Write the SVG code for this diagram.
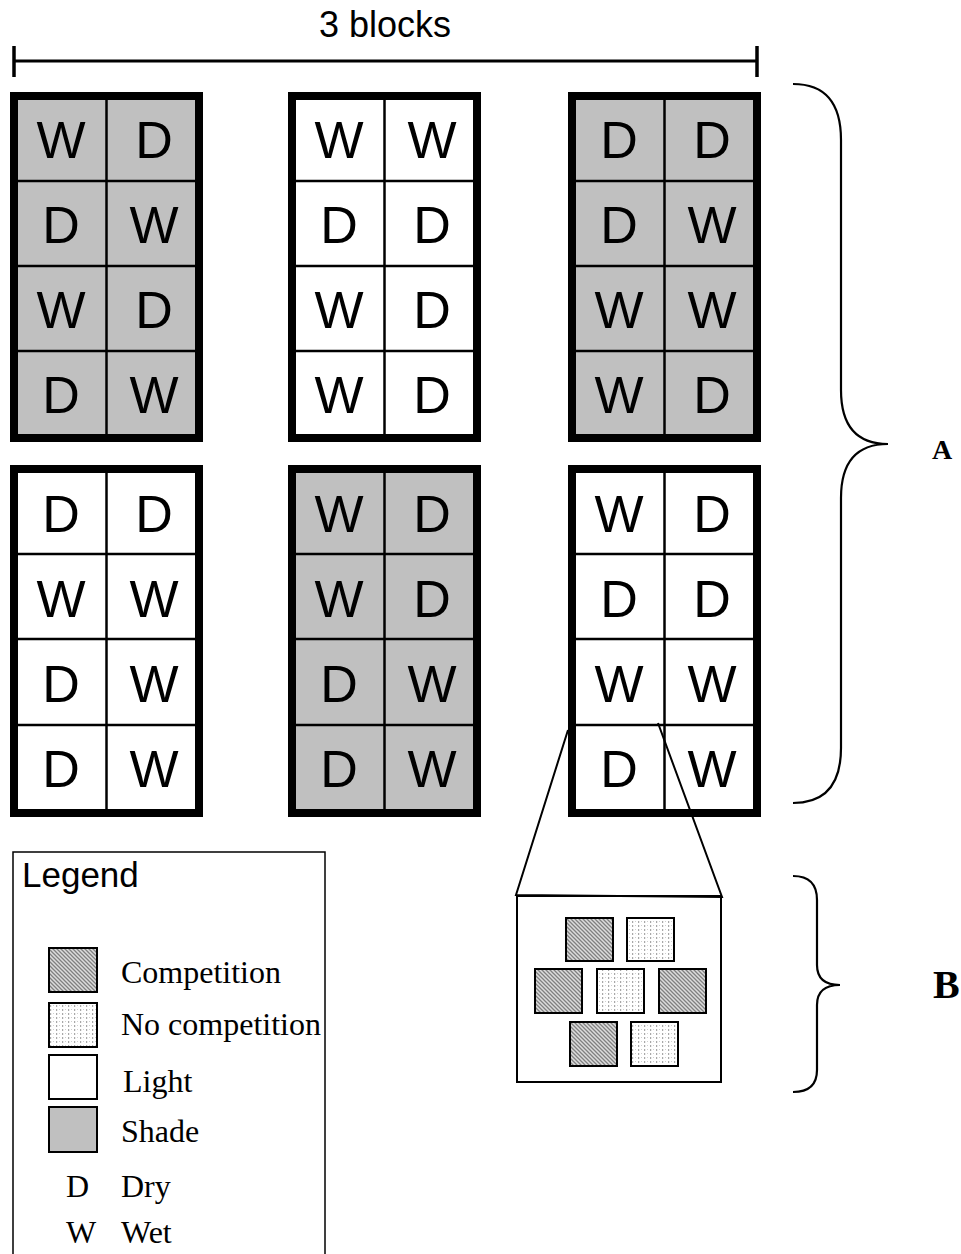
<svg xmlns="http://www.w3.org/2000/svg" width="961" height="1254" viewBox="0 0 961 1254">
<defs>
<pattern id="comp" width="4" height="4" patternUnits="userSpaceOnUse">
<rect width="4" height="4" fill="#dcdcdc"/>
<path d="M-1,-1 L5,5 M-1,3 L1,5 M3,-1 L5,1" stroke="#808080" stroke-width="1.3"/>
</pattern>
<pattern id="nocomp" width="6" height="4" patternUnits="userSpaceOnUse">
<rect width="6" height="4" fill="#ffffff"/>
<rect x="2" y="1" width="1.2" height="2" fill="#a8a8a8"/>
<rect x="5" y="1" width="1" height="1" fill="#d0d0d0"/>
</pattern>
</defs>
<style>
.blk{stroke:#000;stroke-width:8}
.shade{fill:#c0c0c0}
.light{fill:#ffffff}
.div{stroke:#000;stroke-width:2.5}
.cell{font-family:"Liberation Sans",Arial,sans-serif;font-size:52px;fill:#000;text-anchor:middle}
.leg{font-family:"Liberation Serif","Times New Roman",serif;font-size:32px;fill:#000}
.thin{fill:none;stroke:#000;stroke-width:2}
.sw{stroke:#000;stroke-width:2}
.brace{fill:none;stroke:#000;stroke-width:2.2}
.lbl{font-family:"Liberation Serif","Times New Roman",serif;font-weight:bold;fill:#000}
</style>
<rect width="961" height="1254" fill="#fff"/>

<g id="scale">
<line x1="13" y1="61" x2="757" y2="61" stroke="#000" stroke-width="3"/>
<line x1="14" y1="46" x2="14" y2="77" stroke="#000" stroke-width="3.5"/>
<line x1="757" y1="46" x2="757" y2="77" stroke="#000" stroke-width="3.5"/>
<text x="385" y="37" font-family="Liberation Sans,Arial,sans-serif" font-size="36" text-anchor="middle">3 blocks</text>
</g>

<g id="block1">
<rect x="14" y="96" width="185" height="342" class="blk shade"/>
<line x1="106.5" y1="100" x2="106.5" y2="438" class="div"/>
<line x1="18" y1="181" x2="195" y2="181" class="div"/>
<line x1="18" y1="266" x2="195" y2="266" class="div"/>
<line x1="18" y1="351" x2="195" y2="351" class="div"/>
<text x="61" y="158" class="cell">W</text><text x="154" y="158" class="cell">D</text>
<text x="61" y="243" class="cell">D</text><text x="154" y="243" class="cell">W</text>
<text x="61" y="328" class="cell">W</text><text x="154" y="328" class="cell">D</text>
<text x="61" y="413" class="cell">D</text><text x="154" y="413" class="cell">W</text>
</g>

<g id="block2">
<rect x="292" y="96" width="185" height="342" class="blk light"/>
<line x1="384.5" y1="100" x2="384.5" y2="438" class="div"/>
<line x1="296" y1="181" x2="473" y2="181" class="div"/>
<line x1="296" y1="266" x2="473" y2="266" class="div"/>
<line x1="296" y1="351" x2="473" y2="351" class="div"/>
<text x="339" y="158" class="cell">W</text><text x="432" y="158" class="cell">W</text>
<text x="339" y="243" class="cell">D</text><text x="432" y="243" class="cell">D</text>
<text x="339" y="328" class="cell">W</text><text x="432" y="328" class="cell">D</text>
<text x="339" y="413" class="cell">W</text><text x="432" y="413" class="cell">D</text>
</g>

<g id="block3">
<rect x="572" y="96" width="185" height="342" class="blk shade"/>
<line x1="664.5" y1="100" x2="664.5" y2="438" class="div"/>
<line x1="576" y1="181" x2="753" y2="181" class="div"/>
<line x1="576" y1="266" x2="753" y2="266" class="div"/>
<line x1="576" y1="351" x2="753" y2="351" class="div"/>
<text x="619" y="158" class="cell">D</text><text x="712" y="158" class="cell">D</text>
<text x="619" y="243" class="cell">D</text><text x="712" y="243" class="cell">W</text>
<text x="619" y="328" class="cell">W</text><text x="712" y="328" class="cell">W</text>
<text x="619" y="413" class="cell">W</text><text x="712" y="413" class="cell">D</text>
</g>

<g id="block4">
<rect x="14" y="469" width="185" height="344" class="blk light"/>
<line x1="106.5" y1="473" x2="106.5" y2="809" class="div"/>
<line x1="18" y1="554" x2="195" y2="554" class="div"/>
<line x1="18" y1="639" x2="195" y2="639" class="div"/>
<line x1="18" y1="725" x2="195" y2="725" class="div"/>
<text x="61" y="532" class="cell">D</text><text x="154" y="532" class="cell">D</text>
<text x="61" y="617" class="cell">W</text><text x="154" y="617" class="cell">W</text>
<text x="61" y="702" class="cell">D</text><text x="154" y="702" class="cell">W</text>
<text x="61" y="787" class="cell">D</text><text x="154" y="787" class="cell">W</text>
</g>

<g id="block5">
<rect x="292" y="469" width="185" height="344" class="blk shade"/>
<line x1="384.5" y1="473" x2="384.5" y2="809" class="div"/>
<line x1="296" y1="554" x2="473" y2="554" class="div"/>
<line x1="296" y1="639" x2="473" y2="639" class="div"/>
<line x1="296" y1="725" x2="473" y2="725" class="div"/>
<text x="339" y="532" class="cell">W</text><text x="432" y="532" class="cell">D</text>
<text x="339" y="617" class="cell">W</text><text x="432" y="617" class="cell">D</text>
<text x="339" y="702" class="cell">D</text><text x="432" y="702" class="cell">W</text>
<text x="339" y="787" class="cell">D</text><text x="432" y="787" class="cell">W</text>
</g>

<g id="block6">
<rect x="572" y="469" width="185" height="344" class="blk light"/>
<line x1="664.5" y1="473" x2="664.5" y2="809" class="div"/>
<line x1="576" y1="554" x2="753" y2="554" class="div"/>
<line x1="576" y1="639" x2="753" y2="639" class="div"/>
<line x1="576" y1="725" x2="753" y2="725" class="div"/>
<text x="619" y="532" class="cell">W</text><text x="712" y="532" class="cell">D</text>
<text x="619" y="617" class="cell">D</text><text x="712" y="617" class="cell">D</text>
<text x="619" y="702" class="cell">W</text><text x="712" y="702" class="cell">W</text>
<text x="619" y="787" class="cell">D</text><text x="712" y="787" class="cell">W</text>
</g>

<g id="connectors">
<path d="M568,730 L516,895 L722,897 L658,723" class="thin"/>
</g>

<g id="inset">
<rect x="517" y="896" width="204" height="186" class="thin"/>
<rect x="566" y="918" width="47" height="43" fill="url(#comp)" class="sw"/>
<rect x="627" y="918" width="47" height="43" fill="url(#nocomp)" class="sw"/>
<rect x="535" y="969" width="47" height="44" fill="url(#comp)" class="sw"/>
<rect x="597" y="969" width="47" height="44" fill="url(#nocomp)" class="sw"/>
<rect x="659" y="969" width="47" height="44" fill="url(#comp)" class="sw"/>
<rect x="570" y="1022" width="47" height="44" fill="url(#comp)" class="sw"/>
<rect x="631" y="1022" width="47" height="44" fill="url(#nocomp)" class="sw"/>
</g>

<g id="braceA">
<path d="M793,84 Q841,84 841,140 L841,390 Q841,444 888,444 Q841,444 841,498 L841,748 Q841,803 793,803" class="brace"/>
<text x="932" y="459" font-size="28" class="lbl">A</text>
</g>

<g id="braceB">
<path d="M793,876 Q817,876 817,900 L817,965 Q817,985 840,985 Q817,985 817,1005 L817,1070 Q817,1092 793,1092" class="brace"/>
<text x="933" y="998" font-size="40" class="lbl">B</text>
</g>

<g id="legend">
<rect x="13" y="852" width="312" height="420" fill="none" stroke="#000" stroke-width="1.5"/>
<text x="22" y="887" font-family="Liberation Sans,Arial,sans-serif" font-size="35">Legend</text>
<rect x="49" y="948" width="48" height="44" fill="url(#comp)" class="sw"/>
<text x="121" y="983" class="leg">Competition</text>
<rect x="49" y="1003" width="48" height="44" fill="url(#nocomp)" class="sw"/>
<text x="121" y="1035" class="leg">No competition</text>
<rect x="49" y="1055" width="48" height="44" fill="#fff" class="sw"/>
<text x="123" y="1092" class="leg">Light</text>
<rect x="49" y="1107" width="48" height="45" fill="#c0c0c0" class="sw"/>
<text x="121" y="1142" class="leg">Shade</text>
<text x="66" y="1197" class="leg">D</text>
<text x="121" y="1197" class="leg">Dry</text>
<text x="66" y="1243" class="leg">W</text>
<text x="121" y="1243" class="leg">Wet</text>
</g>
</svg>
